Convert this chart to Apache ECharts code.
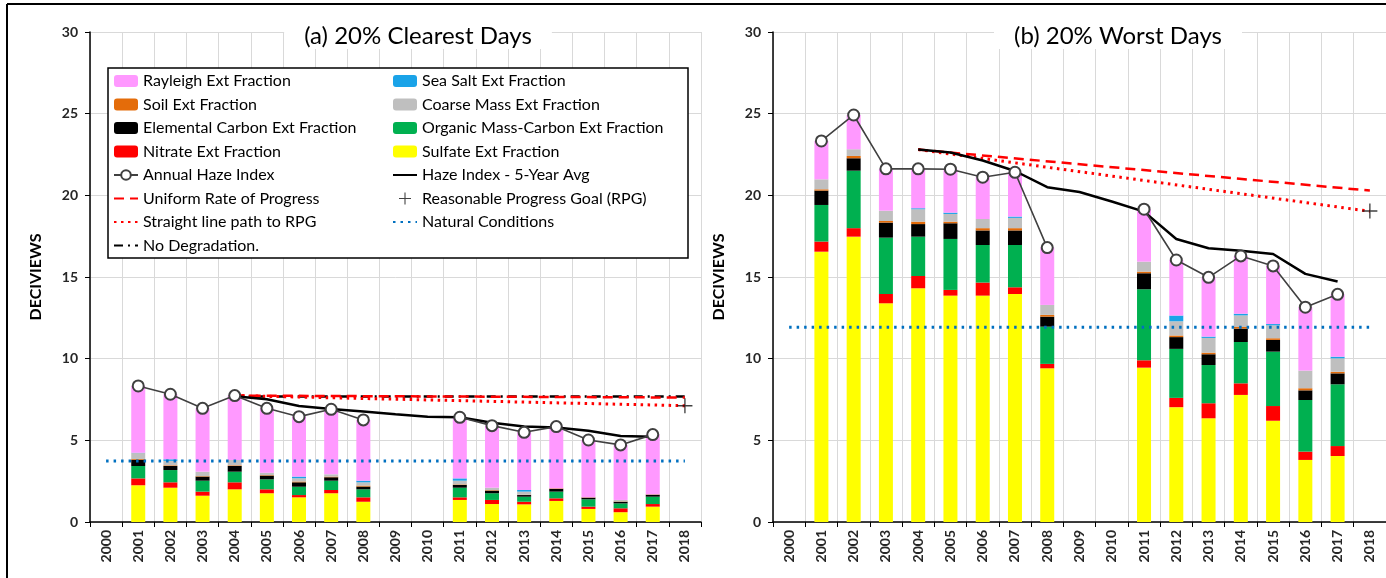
<!DOCTYPE html>
<html><head><meta charset="utf-8">
<script src="https://cdn.jsdelivr.net/npm/echarts@6/dist/echarts.min.js"></script>
<style>html,body{margin:0;padding:0;background:#fff}#c{width:1386px;height:578px}</style>
</head><body><div id="c"></div>
<script>
const years = ['2000','2001','2002','2003','2004','2005','2006','2007','2008','2009','2010','2011','2012','2013','2014','2015','2016','2017','2018'];
const yTicks = [0,5,10,15,20,25,30];

// (a) 20% Clearest Days
const clearSulfate  = [null,2.25,2.1,1.61,2.0,1.76,1.51,1.76,1.24,null,null,1.35,1.1,1.08,1.29,0.8,0.6,0.94,null];
const clearNitrate  = [null,0.42,0.33,0.25,0.43,0.24,0.14,0.2,0.27,null,null,0.16,0.25,0.16,0.16,0.14,0.24,0.16,null];
const clearOMC      = [null,0.76,0.75,0.67,0.65,0.61,0.51,0.57,0.49,null,null,0.59,0.41,0.31,0.41,0.45,0.3,0.45,null];
const clearEC       = [null,0.38,0.25,0.25,0.35,0.23,0.27,0.21,0.17,null,null,0.17,0.16,0.1,0.17,0.1,0.1,0.12,null];
const clearSoil     = [null,0.05,0.04,0.03,0.04,0.03,0.05,0.04,0.06,null,null,0.03,0.03,0.02,0.03,0.02,0.02,0.02,null];
const clearCoarse   = [null,0.36,0.27,0.27,0.33,0.15,0.2,0.14,0.2,null,null,0.23,0.15,0.19,0,0,0.09,0,null];
const clearSeaSalt  = [null,0.02,0.1,0,0,0,0.1,0,0.1,null,null,0.14,0,0.1,0,0,0,0,null];
const clearRayleigh = [null,4.09,3.98,3.88,3.94,3.94,3.67,3.98,3.72,null,null,3.74,3.8,3.53,3.78,3.51,3.37,3.66,null];
const clearHaze     = [null,8.33,7.82,6.96,7.74,6.96,6.45,6.9,6.25,null,null,6.41,5.9,5.49,5.84,5.02,4.72,5.35,null];
const clearAvg5     = [null,null,null,null,7.7,7.51,7.1,6.92,6.76,6.6,6.45,6.41,6.08,5.84,5.78,5.59,5.27,5.22,null];
const clearUniform  = [null,null,null,null,7.74,null,null,null,null,null,null,null,null,null,null,null,null,null,7.62];
const clearStraight = [null,null,null,null,7.74,null,null,null,null,null,null,null,null,null,null,null,null,null,7.12];
const clearNoDeg    = [null,null,null,null,7.68,null,null,null,null,null,null,null,null,null,null,null,null,null,7.68];
const clearRPG      = [null,null,null,null,null,null,null,null,null,null,null,null,null,null,null,null,null,null,7.12];
const clearNatural  = [3.73,null,null,null,null,null,null,null,null,null,null,null,null,null,null,null,null,null,3.73];

// (b) 20% Worst Days
const worstSulfate  = [null,16.55,17.47,13.39,14.31,13.86,13.86,13.96,9.41,null,null,9.45,7.03,6.35,7.78,6.2,3.8,4.04,null];
const worstNitrate  = [null,0.62,0.52,0.57,0.75,0.35,0.8,0.41,0.27,null,null,0.45,0.57,0.92,0.71,0.9,0.51,0.61,null];
const worstOMC      = [null,2.24,3.52,3.45,2.41,3.12,2.3,2.59,2.28,null,null,4.35,3.0,2.34,2.53,3.33,3.16,3.78,null];
const worstEC       = [null,0.88,0.76,0.92,0.77,0.96,0.89,0.89,0.61,null,null,0.98,0.72,0.66,0.82,0.72,0.59,0.67,null];
const worstSoil     = [null,0.08,0.14,0.1,0.15,0.1,0.14,0.14,0.11,null,null,0.1,0.1,0.1,0.1,0.1,0.13,0.1,null];
const worstCoarse   = [null,0.61,0.41,0.63,0.76,0.47,0.56,0.63,0.61,null,null,0.61,0.87,0.9,0.71,0.79,1.08,0.82,null];
const worstSeaSalt  = [null,0,0,0,0.06,0.08,0,0.08,0,null,null,0,0.35,0.08,0.1,0.08,0,0.1,null];
const worstRayleigh = [null,2.35,2.1,2.56,2.41,2.66,2.56,2.71,3.51,null,null,3.21,3.4,3.63,3.54,3.56,3.88,3.82,null];
const worstHaze     = [null,23.33,24.92,21.62,21.62,21.6,21.11,21.41,16.8,null,null,19.15,16.04,14.98,16.29,15.68,13.15,13.94,null];
const worstAvg5     = [null,null,null,null,22.8,22.62,22.13,21.49,20.5,20.2,19.62,19.0,17.33,16.76,16.61,16.41,15.19,14.72,null];
const worstUniform  = [null,null,null,null,22.8,null,null,null,null,null,null,null,null,null,null,null,null,null,20.29];
const worstStraight = [null,null,null,null,22.8,null,null,null,null,null,null,null,null,null,null,null,null,null,19.02];
const worstRPG      = [null,null,null,null,null,null,null,null,null,null,null,null,null,null,null,null,null,null,19.04];
const worstNatural  = [11.92,null,null,null,null,null,null,null,null,null,null,null,null,null,null,null,null,null,11.92];

const FONT = 'Lato';
const C = {
  rayleigh:'#FF99FF', seasalt:'#1AA3E8', soil:'#E46C0A', coarse:'#BFBFBF',
  ec:'#000000', omc:'#00B050', nitrate:'#FF0000', sulfate:'#FFFF00'
};
const N = {
  rayleigh:'Rayleigh Ext Fraction', seasalt:'Sea Salt Ext Fraction', soil:'Soil Ext Fraction',
  coarse:'Coarse Mass Ext Fraction', ec:'Elemental Carbon Ext Fraction', omc:'Organic Mass-Carbon Ext Fraction',
  nitrate:'Nitrate Ext Fraction', sulfate:'Sulfate Ext Fraction', haze:'Annual Haze Index',
  avg5:'Haze Index - 5-Year Avg', uniform:'Uniform Rate of Progress', rpg:'Reasonable Progress Goal (RPG)',
  straight:'Straight line path to RPG', natural:'Natural Conditions', nodeg:'No Degradation.'
};
const plusPath = 'path://M9.1,0H10.9V9.1H20V10.9H10.9V20H9.1V10.9H0V9.1H9.1Z';

function panel(idx, d) {
  const s = [];
  const bar = (key, data) => ({
    name: N[key], type:'bar', stack:'s'+idx, xAxisIndex:idx, yAxisIndex:idx, data,
    barWidth:14, itemStyle:{color:C[key]}, z:2
  });
  s.push(bar('sulfate', d.sulfate), bar('nitrate', d.nitrate), bar('omc', d.omc), bar('ec', d.ec),
         bar('soil', d.soil), bar('coarse', d.coarse), bar('seasalt', d.seasalt), bar('rayleigh', d.rayleigh));
  const line = (key, data, color, width, type, extra) => Object.assign({
    name:N[key], type:'line', xAxisIndex:idx, yAxisIndex:idx, data, connectNulls:true,
    symbol:'none', lineStyle:{color, width, type}, itemStyle:{color}, z:4
  }, extra||{});
  s.push(line('natural', d.natural, '#0070C0', 3, [2.5,5]));
  if (d.nodeg) s.push(line('nodeg', d.nodeg, '#000', 2.5, [9,5,2,5]));
  s.push(line('uniform', d.uniform, '#FF0000', 2.5, [10,6]));
  s.push(line('straight', d.straight, '#FF0000', 3, [2.5,4.5]));
  s.push(line('avg5', d.avg5, '#000', 2.5, 'solid'));
  s.push({
    name:N.haze, type:'line', xAxisIndex:idx, yAxisIndex:idx, data:d.haze, connectNulls:false,
    symbol:'emptyCircle', symbolSize:11, lineStyle:{color:'#404040', width:1.6},
    itemStyle:{color:'#404040', borderWidth:1.4}, z:5
  });
  s.push({
    name:N.rpg, type:'scatter', xAxisIndex:idx, yAxisIndex:idx, data:d.rpg,
    symbol:plusPath, symbolSize:15, itemStyle:{color:'#111'}, z:6
  });
  return s;
}

const xAxisBase = {
  type:'category', data:years, boundaryGap:true,
  axisLine:{lineStyle:{color:'#000', width:1.5}},
  axisTick:{show:true, interval:0, length:5, lineStyle:{color:'#000'}},
  splitLine:{show:true, interval:0, lineStyle:{color:'#D9D9D9', width:1}},
  axisLabel:{interval:0, rotate:90, fontSize:14, fontWeight:'bold', color:'#262626', fontFamily:FONT, margin:8}
};
const yAxisBase = {
  type:'value', min:yTicks[0], max:yTicks[yTicks.length-1], interval:5,
  name:'DECIVIEWS', nameLocation:'middle', nameRotate:90, nameGap:46,
  nameTextStyle:{fontSize:16, fontWeight:'bold', color:'#000', fontFamily:FONT},
  axisLine:{show:true, lineStyle:{color:'#000', width:1.5}},
  axisTick:{show:true, length:5, lineStyle:{color:'#000'}},
  splitLine:{show:true, lineStyle:{color:'#D9D9D9', width:1}},
  axisLabel:{fontSize:14, fontWeight:'bold', color:'#262626', fontFamily:FONT, margin:12}
};

const noDot = name => ({name, itemStyle:{opacity:0}});
const legendBase = {
  orient:'vertical', selectedMode:false, itemWidth:24, itemHeight:12, itemGap:7.5, padding:0,
  textStyle:{fontSize:16, color:'#000', fontFamily:FONT, lineHeight:16}, z:12
};

const option = {
  animation:false,
  backgroundColor:'#fff',
  title:[
    {text:'(a) 20% Clearest Days', left:398, top:23, textAlign:'center', backgroundColor:'#fff', padding:[1,20],
     textStyle:{fontSize:24, fontWeight:'normal', color:'#000', fontFamily:FONT}},
    {text:'(b) 20% Worst Days', left:1098, top:23, textAlign:'center', backgroundColor:'#fff', padding:[1,20],
     textStyle:{fontSize:24, fontWeight:'normal', color:'#000', fontFamily:FONT}}
  ],
  grid:[
    {left:90, top:32, width:611, height:490},
    {left:773, top:32, width:622, height:490}
  ],
  xAxis:[Object.assign({gridIndex:0}, xAxisBase), Object.assign({gridIndex:1}, xAxisBase)],
  yAxis:[Object.assign({gridIndex:0}, yAxisBase), Object.assign({gridIndex:1}, yAxisBase)],
  legend:[
    Object.assign({left:113, top:73, data:[N.rayleigh,N.soil,N.ec,N.nitrate,N.haze,noDot(N.uniform),noDot(N.straight),noDot(N.nodeg)]}, legendBase),
    Object.assign({left:392, top:73, data:[N.seasalt,N.coarse,N.omc,N.sulfate,noDot(N.avg5),N.rpg,noDot(N.natural)]}, legendBase)
  ],
  graphic:[
    {type:'rect', shape:{x:108, y:68, width:580, height:190}, style:{fill:'#fff', stroke:'#000', lineWidth:1.5}, z:10},
    {type:'line', shape:{x1:7, y1:4, x2:1386, y2:4}, style:{stroke:'#000', lineWidth:2}, z:20},
    {type:'line', shape:{x1:7, y1:4, x2:7, y2:578}, style:{stroke:'#000', lineWidth:2}, z:20}
  ],
  series:[].concat(
    panel(0, {sulfate:clearSulfate, nitrate:clearNitrate, omc:clearOMC, ec:clearEC, soil:clearSoil, coarse:clearCoarse,
              seasalt:clearSeaSalt, rayleigh:clearRayleigh, haze:clearHaze, avg5:clearAvg5, uniform:clearUniform,
              straight:clearStraight, nodeg:clearNoDeg, rpg:clearRPG, natural:clearNatural}),
    panel(1, {sulfate:worstSulfate, nitrate:worstNitrate, omc:worstOMC, ec:worstEC, soil:worstSoil, coarse:worstCoarse,
              seasalt:worstSeaSalt, rayleigh:worstRayleigh, haze:worstHaze, avg5:worstAvg5, uniform:worstUniform,
              straight:worstStraight, rpg:worstRPG, natural:worstNatural})
  )
};
const chart = echarts.init(document.getElementById('c'), null, {renderer:'canvas'});
chart.setOption(option);
</script></body></html>
